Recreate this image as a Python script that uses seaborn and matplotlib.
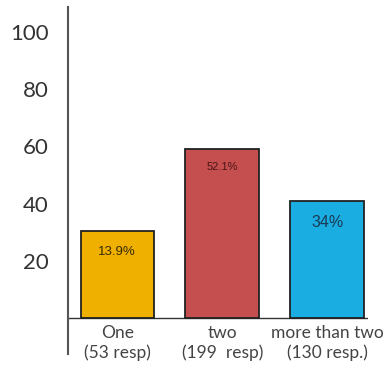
import matplotlib
matplotlib.use("Agg")
import matplotlib.pyplot as plt
import seaborn as sns
import pandas as pd

categories = ["One\n(53 resp)", "two\n(199  resp)", "more than two\n(130 resp.)"]
values = [30.3, 59.2, 40.8]
bar_labels = ["13.9%", "52.1%", "34%"]
colors = ["#EFB000", "#C54F4E", "#1AADE2"]
yticks = [20, 40, 60, 80, 100]

df = pd.DataFrame({"cat": categories, "val": values})

sns.set_style("white")
plt.rcParams["font.family"] = ["Lato", "DejaVu Sans"]

fig = plt.figure(figsize=(3.86, 3.69), dpi=100)
W, H = 386, 369
ax = fig.add_axes([68 / W, 1 - 354 / H, 300 / W, 347 / H])

sns.barplot(data=df, x="cat", y="val", hue="cat", palette=colors, legend=False,
            width=0.7, edgecolor="#222222", linewidth=1.3, ax=ax, saturation=1)

ax.set_ylim(-12.6, 108.7)
ax.set_xlim(-0.47, 2.39)
ax.axhline(0, color="#333333", lw=1.0, zorder=0.5)

for s in ["top", "right", "bottom"]:
    ax.spines[s].set_visible(False)
ax.spines["left"].set_color("#555555")
ax.spines["left"].set_linewidth(1.5)

ax.set_yticks(yticks)
ax.set_yticklabels([str(t) for t in yticks], fontsize=16, color="#333333")
ax.tick_params(axis="y", length=0, pad=14)
ax.tick_params(axis="x", length=0, pad=-21)
ax.set_xticks(range(len(categories)))
ax.set_xticklabels(categories, fontsize=12.5, color="#444444", linespacing=1.3)
ax.set_xlabel("")
ax.set_ylabel("")

label_specs = [(9.5, "#3a2a00", 7.2), (8, "#4a1515", 6.3), (11.5, "#1a3a55", 7.6)]
for i, (v, lab) in enumerate(zip(values, bar_labels)):
    fs, col, off = label_specs[i]
    ax.text(i, v - off, lab, ha="center", va="center", fontsize=fs, color=col,
            family=["Liberation Sans", "DejaVu Sans"])

fig.savefig("out.png", dpi=100)
